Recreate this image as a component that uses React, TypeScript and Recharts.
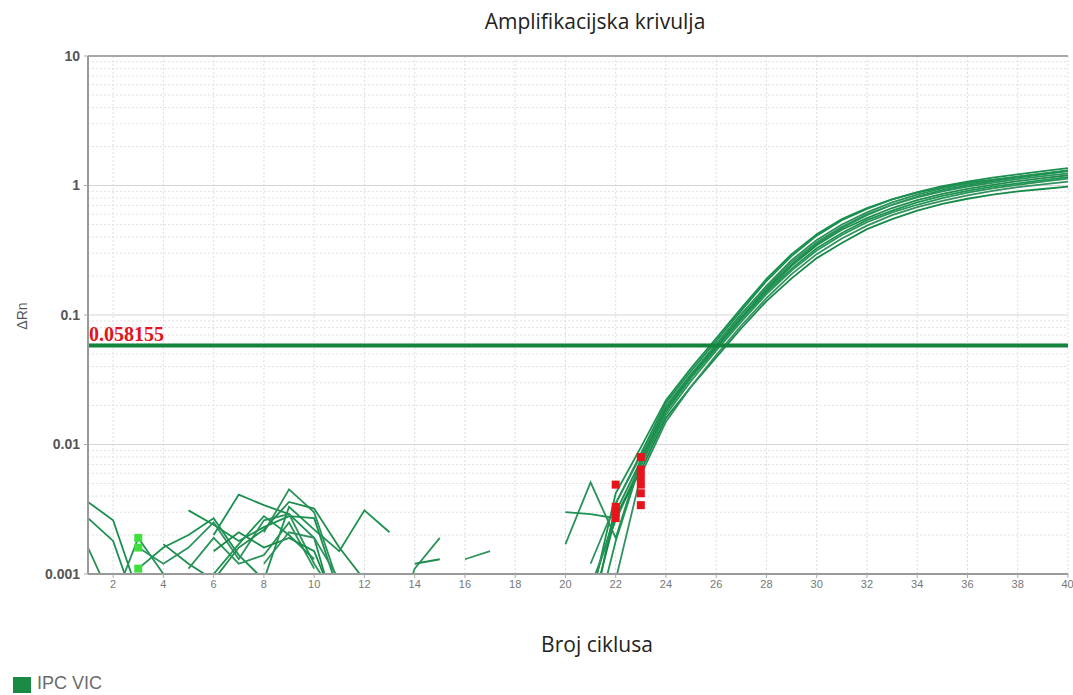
import { ComposedChart, Line, Scatter, XAxis, YAxis, CartesianGrid, ReferenceLine } from "recharts";

/* ── Data (ΔRn per cycle, null = not drawn) ── */
const cycles = [1, 2, 3, 4, 5, 6, 7, 8, 9, 10, 11, 12, 13, 14, 15, 16, 17, 18, 19, 20, 21, 22, 23, 24, 25, 26, 27, 28, 29, 30, 31, 32, 33, 34, 35, 36, 37, 38, 39, 40];

const well1 = [0.0036, 0.0026, 0.0007, null, 0.0031, 0.0024, 0.0018, 0.0023, 0.0028, 0.0027, 0.0007, null, null, null, null, null, null, null, null, null, 0.0006, 0.0042, 0.0095, 0.022, 0.039, 0.066, 0.113, 0.19, 0.295, 0.42, 0.55, 0.67, 0.78, 0.88, 0.97, 1.05, 1.11, 1.17, 1.23, 1.3];
const well2 = [0.0027, 0.0018, 0.0005, null, null, 0.002, 0.0041, 0.0034, 0.0029, 0.0019, 0.0004, null, null, null, null, null, null, null, null, null, 0.0004, 0.0035, 0.0085, 0.021, 0.037, 0.063, 0.108, 0.183, 0.285, 0.41, 0.54, 0.66, 0.78, 0.89, 0.99, 1.07, 1.15, 1.22, 1.29, 1.36];
const well3 = [0.0016, 0.0006, 0.0019, 0.001, 0.0008, null, null, 0.0021, 0.0045, 0.003, 0.0008, null, null, null, null, null, null, null, null, 0.0017, 0.0051, 0.0019, 0.0078, 0.019, 0.034, 0.059, 0.101, 0.168, 0.265, 0.38, 0.5, 0.62, 0.74, 0.85, 0.95, 1.03, 1.1, 1.17, 1.24, 1.31];
const well4 = [null, null, 0.0011, 0.0016, 0.002, 0.0027, 0.0014, 0.0009, 0.0033, 0.0022, 0.0015, 0.0031, 0.0021, null, null, null, null, null, null, 0.003, 0.0029, 0.0027, 0.007, 0.018, 0.033, 0.056, 0.096, 0.16, 0.245, 0.355, 0.47, 0.59, 0.71, 0.82, 0.92, 1.0, 1.08, 1.15, 1.22, 1.29];
const well5 = [null, null, 0.0016, 0.0012, 0.0016, 0.0025, 0.0013, 0.0026, 0.0029, 0.0012, 0.0006, null, 0.0003, 0.0011, 0.0019, null, null, null, null, null, 0.0012, 0.0035, 0.0082, 0.02, 0.035, 0.06, 0.102, 0.165, 0.255, 0.365, 0.48, 0.6, 0.71, 0.81, 0.9, 0.98, 1.05, 1.12, 1.18, 1.24];
const well6 = [null, null, null, 0.0017, 0.0012, 0.0009, 0.0016, 0.0022, 0.0036, 0.0032, 0.0016, 0.0009, null, 0.0012, 0.0013, null, null, null, null, null, 0.0007, 0.003, 0.0075, 0.019, 0.034, 0.057, 0.096, 0.155, 0.24, 0.345, 0.455, 0.56, 0.67, 0.77, 0.86, 0.94, 1.01, 1.08, 1.14, 1.2];
const well7 = [null, null, null, null, 0.0011, 0.0019, 0.0012, 0.0014, 0.0025, 0.0011, null, null, null, null, null, 0.0013, 0.0015, null, null, null, 0.0008, 0.0026, 0.0068, 0.017, 0.031, 0.053, 0.089, 0.145, 0.22, 0.315, 0.415, 0.52, 0.62, 0.71, 0.8, 0.88, 0.95, 1.01, 1.07, 1.13];
const well8 = [null, null, null, null, null, 0.0015, 0.0021, 0.0016, 0.0019, 0.0015, 0.0005, null, null, null, null, null, null, null, null, null, 0.0005, 0.0028, 0.0063, 0.016, 0.028, 0.047, 0.079, 0.128, 0.192, 0.275, 0.36, 0.46, 0.55, 0.64, 0.72, 0.79, 0.85, 0.9, 0.94, 0.98];
const well9 = [null, null, null, null, null, null, null, 0.0012, 0.0021, 0.0019, 0.0009, null, null, null, null, null, null, null, null, null, 0.0002, 0.0009, 0.0058, 0.015, 0.028, 0.049, 0.083, 0.135, 0.207, 0.295, 0.39, 0.49, 0.59, 0.68, 0.76, 0.84, 0.91, 0.97, 1.02, 1.07];
const well10 = [null, null, null, null, null, 0.001, 0.0017, 0.0028, 0.002, 0.0013, null, null, null, null, null, null, null, null, null, null, 0.0003, 0.0018, 0.0072, 0.018, 0.033, 0.055, 0.093, 0.15, 0.228, 0.328, 0.43, 0.54, 0.64, 0.74, 0.83, 0.91, 0.98, 1.04, 1.1, 1.16];

const wells = [well1, well2, well3, well4, well5, well6, well7, well8, well9, well10];
const wellColors = ["#17914c", "#1b8f50", "#2a9158", "#1a9350", "#2c935c", "#1f8c4e", "#2b9559", "#168a47", "#32915f", "#1d9452"];

/* Ct / baseline markers */
const ctCycles = [22, 22, 22, 22, 23, 23, 23, 23, 23, 23];
const ctValues = [0.0049, 0.0033, 0.003, 0.0027, 0.008, 0.0064, 0.0056, 0.0049, 0.0042, 0.0034];
const baseCycles = [3, 3, 3];
const baseValues = [0.0019, 0.0016, 0.0011];

const threshold = 0.058155;
const xTicks = [2, 4, 6, 8, 10, 12, 14, 16, 18, 20, 22, 24, 26, 28, 30, 32, 34, 36, 38, 40];
const yTicks = [0.001, 0.01, 0.1, 1, 10];
const minorSteps = [2, 3, 4, 5, 6, 7, 8, 9];

const rows = cycles.map((c, i) => {
  const r: Record<string, number | null> = { cycle: c };
  wells.forEach((w, k) => { r[`w${k + 1}`] = w[i]; });
  return r;
});
const ctPoints = ctCycles.map((c, i) => ({ cycle: c, value: ctValues[i] }));
const basePoints = baseCycles.map((c, i) => ({ cycle: c, value: baseValues[i] }));
const minorGrid = yTicks.slice(0, -1).flatMap((d) => minorSteps.map((m) => +(d * m).toPrecision(3)));

function SquareMark({ cx, cy, fill }: { cx?: number; cy?: number; fill: string }) {
  if (cx == null || cy == null) return null;
  return <rect x={cx - 4} y={cy - 4} width={8} height={8} fill={fill} />;
}

function ThresholdLabel({ viewBox }: { viewBox?: { x: number; y: number } }) {
  if (!viewBox) return null;
  return (
    <text x={viewBox.x + 1} y={viewBox.y - 4} fill="#e0151d" fontSize={20} fontWeight={700} fontFamily="'Liberation Serif', serif">
      {threshold}
    </text>
  );
}

export default function App() {
  return (
    <div style={{ position: "absolute", left: 0, top: 0, width: 1073, height: 695, background: "#fff", fontFamily: "'Liberation Sans', Arial, sans-serif" }}>
      <div style={{ position: "absolute", left: 0, width: 1190, top: 7, textAlign: "center", fontFamily: "'Open Sans', sans-serif", fontSize: 21, color: "#222" }}>
        Amplifikacijska krivulja
      </div>
      <div style={{ position: "absolute", left: 22, top: 316, transform: "translate(-50%, -50%) rotate(-90deg)", fontSize: 14, color: "#555" }}>
        ΔRn
      </div>
      <div style={{ position: "absolute", left: 0, width: 1194, top: 630, textAlign: "center", fontFamily: "'Open Sans', sans-serif", fontSize: 21, color: "#222" }}>
        Broj ciklusa
      </div>
      <div style={{ position: "absolute", left: 13, top: 677, width: 18, height: 16, background: "#1a8a44" }} />
      <div style={{ position: "absolute", left: 37, top: 673, fontSize: 18, color: "#6b6b6b" }}>IPC VIC</div>

      <ComposedChart width={1073} height={695} data={rows} margin={{ top: 56, right: 5, bottom: 91, left: 8 }}>
        <CartesianGrid horizontal={false} stroke="#dedede" strokeDasharray="2 2" />
        {minorGrid.map((v) => (
          <ReferenceLine key={`m${v}`} y={v} stroke="#e2e2e2" strokeDasharray="2 2" />
        ))}
        {yTicks.slice(1, -1).map((v) => (
          <ReferenceLine key={`d${v}`} y={v} stroke="#d6d6d6" />
        ))}
        <ReferenceLine y={10} stroke="#a8a8a8" strokeWidth={2} />
        <XAxis
          dataKey="cycle"
          type="number"
          domain={[1, 40]}
          ticks={xTicks}
          height={30}
          tickSize={4}
          stroke="#9a9a9a"
          strokeWidth={2}
          tick={{ fontSize: 11, fill: "#777" }}
          tickLine={{ stroke: "#aaa", strokeWidth: 1 }}
        />
        <YAxis
          scale="log"
          type="number"
          domain={[0.001, 10]}
          ticks={yTicks}
          allowDataOverflow
          width={80}
          tickSize={4}
          tickMargin={4}
          stroke="#9a9a9a"
          strokeWidth={2}
          tickFormatter={(v: number) => String(v)}
          tick={{ fontSize: 14, fill: "#555", fontWeight: 700 }}
          tickLine={{ stroke: "#aaa", strokeWidth: 1 }}
        />
        {wells.map((_, k) => (
          <Line
            key={k}
            dataKey={`w${k + 1}`}
            stroke={wellColors[k]}
            strokeWidth={1.8}
            dot={false}
            connectNulls={false}
            isAnimationActive={false}
          />
        ))}
        <ReferenceLine y={threshold} stroke="#14833d" strokeWidth={4} label={<ThresholdLabel />} />
        <Scatter data={ctPoints} dataKey="value" isAnimationActive={false} shape={(p: any) => <SquareMark {...p} fill="#e8141c" />} />
        <Scatter data={basePoints} dataKey="value" isAnimationActive={false} shape={(p: any) => <SquareMark {...p} fill="#3ee03e" />} />
      </ComposedChart>
    </div>
  );
}
